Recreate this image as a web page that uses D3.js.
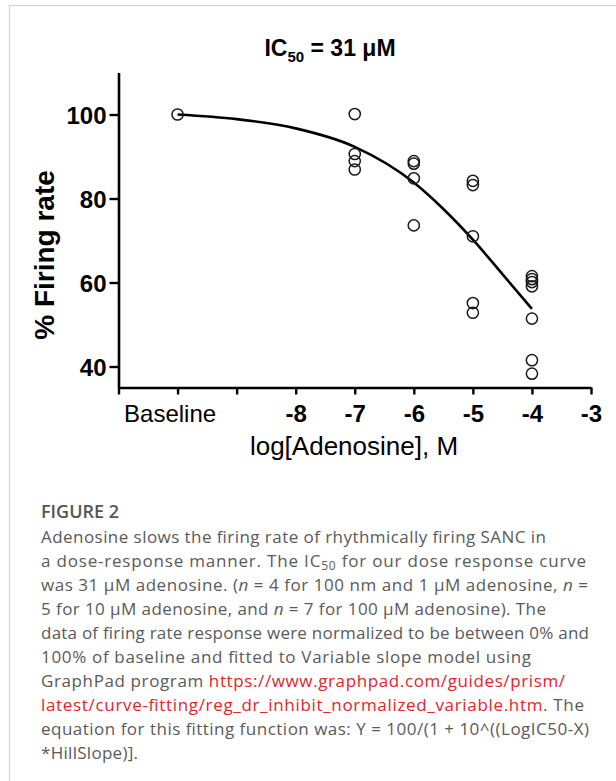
<!DOCTYPE html>
<html>
<head>
<meta charset="utf-8">
<script src="https://cdn.jsdelivr.net/npm/d3@7"></script>
<style>
  html, body { margin: 0; padding: 0; background: #fff; }
  svg { display: block; }
</style>
</head>
<body>
<script>
// Dose groups (log molar); -10 stands in for the baseline condition
const doseLevels = [-10, -7, -6, -5, -4];
const responses = [
  [100],
  [100.1, 90.6, 88.9, 86.9],
  [88.9, 88.3, 84.8, 73.6],
  [84.2, 83.2, 71.0, 55.1, 52.8],
  [61.5, 60.8, 60.1, 59.1, 51.4, 41.5, 38.3]
];

// Fitted dose-response curve (variable slope)
const fitLogDose = [-10, -9, -8, -7, -6, -5.5, -5, -4.5, -4];
const fitResponse = [100, 98.9, 96.7, 92.3, 83.8, 77.5, 70.2, 62.0, 53.7];

// Axes
const xDomain = [-11, -3];
const xTickValues = [-11, -10, -9, -8, -7, -6, -5, -4, -3];
const xTickLabels = {"-10": "Baseline", "-8": "-8", "-7": "-7", "-6": "-6", "-5": "-5", "-4": "-4", "-3": "-3"};
const yDomain = [35, 110];
const yTickValues = [40, 60, 80, 100];

// Caption
const captionHead = "FIGURE 2";

const W = 616, H = 781;
const svg = d3.select("body").append("svg").attr("width", W).attr("height", H);
svg.append("rect").attr("width", W).attr("height", H).attr("fill", "#fff");

// Page frame
svg.append("path")
  .attr("d", "M9.5,781 L9.5,5.5 L616,5.5")
  .attr("fill", "none").attr("stroke", "#d4d4d4").attr("stroke-width", 1.2);

const x = d3.scaleLinear().domain(xDomain).range([118.5, 591]);
const y = d3.scaleLinear().domain(yDomain).range([387.5, 72.5]);

const chartFont = "'Liberation Sans', Arial, sans-serif";

// Y axis
const yAxis = svg.append("g")
  .attr("transform", `translate(${x(xDomain[0])},0)`)
  .call(d3.axisLeft(y).tickValues(yTickValues).tickSize(9).tickSizeOuter(0).tickPadding(3));
yAxis.select(".domain").attr("stroke", "#000").attr("stroke-width", 2.6);
yAxis.selectAll(".tick line").attr("stroke", "#000").attr("stroke-width", 2.4);
yAxis.selectAll(".tick text")
  .attr("font-family", chartFont).attr("font-weight", "bold")
  .attr("font-size", 24).attr("fill", "#000").attr("dy", "0.36em");

// X axis
const xAxis = svg.append("g")
  .attr("transform", `translate(0,${y(yDomain[0])})`)
  .call(d3.axisBottom(x).tickValues(xTickValues).tickSize(7).tickSizeOuter(0).tickPadding(10)
    .tickFormat(d => xTickLabels[String(d)] || ""));
xAxis.select(".domain").attr("stroke", "#000").attr("stroke-width", 2.6);
xAxis.selectAll(".tick line").attr("stroke", "#000").attr("stroke-width", 2.4);
xAxis.selectAll(".tick text")
  .attr("font-family", chartFont)
  .attr("font-weight", d => d === -10 ? "normal" : "bold")
  .attr("font-size", 24).attr("fill", "#000")
  .attr("dx", d => d === -10 ? -8 : 0);

// Fitted curve
const fitPoints = fitLogDose.map((d, i) => [d, fitResponse[i]]);
svg.append("path")
  .datum(fitPoints)
  .attr("fill", "none").attr("stroke", "#000").attr("stroke-width", 2.6)
  .attr("d", d3.line().x(d => x(d[0])).y(d => y(d[1])).curve(d3.curveMonotoneX));

// Individual responses
const points = doseLevels.flatMap((dose, i) => responses[i].map(v => ({dose, v})));
svg.append("g").selectAll("circle")
  .data(points).join("circle")
  .attr("cx", d => x(d.dose)).attr("cy", d => y(d.v)).attr("r", 5.6)
  .attr("fill", "none").attr("stroke", "#1a1a1a").attr("stroke-width", 1.5);

// Title
const title = svg.append("text")
  .attr("x", 330).attr("y", 56).attr("text-anchor", "middle")
  .attr("font-family", chartFont).attr("font-weight", "bold").attr("font-size", 23).attr("fill", "#000");
title.append("tspan").text("IC");
title.append("tspan").attr("font-size", 15).attr("dy", 6).text("50");
title.append("tspan").attr("dy", -6).text(" = 31 μM");

// Axis titles
svg.append("text")
  .attr("transform", "translate(54,255) rotate(-90)")
  .attr("text-anchor", "middle")
  .attr("font-family", chartFont).attr("font-weight", "bold").attr("font-size", 28).attr("fill", "#000")
  .text("% Firing rate");

svg.append("text")
  .attr("x", 354).attr("y", 455).attr("text-anchor", "middle")
  .attr("font-family", chartFont).attr("font-size", 26).attr("fill", "#000")
  .text("log[Adenosine], M");

// Caption
const capFont = "'Open Sans', 'Noto Sans', sans-serif";
const capColor = "#5a5a5a";
const linkColor = "#e0262b";
svg.append("text")
  .attr("x", 41).attr("y", 518)
  .attr("font-family", capFont).attr("font-weight", 600).attr("font-size", 18).attr("fill", "#555")
  .text(captionHead);

// each line: array of [text, style] runs, plus right edge
const captionLines = [
  {end: 546, runs: [["Adenosine slows the firing rate of rhythmically firing SANC in"]]},
  {end: 586, runs: [["a dose-response manner. The IC"], ["50", "sub"], [" for our dose response curve"]]},
  {end: 588, runs: [["was 31 μM adenosine. ("], ["n", "it"], [" = 4 for 100 nm and 1 μM adenosine, "], ["n", "it"], [" ="]]},
  {end: 546, runs: [["5 for 10 μM adenosine, and "], ["n", "it"], [" = 7 for 100 μM adenosine). The"]]},
  {end: 589, runs: [["data of firing rate response were normalized to be between 0% and"]]},
  {end: 531, runs: [["100% of baseline and fitted to Variable slope model using"]]},
  {end: 565, runs: [["GraphPad program "], ["https://www.graphpad.com/guides/prism/", "link"]]},
  {end: 584, runs: [["latest/curve-fitting/reg_dr_inhibit_normalized_variable.htm", "link"], [". The"]]},
  {end: 589, runs: [["equation for this fitting function was: Y = 100/(1 + 10^((LogIC50-X)"]]},
  {end: 138, runs: [["*HillSlope)]."]]}
];

captionLines.forEach((line, i) => {
  const t = svg.append("text")
    .attr("x", 41).attr("y", 543 + i * 24)
    .attr("font-family", capFont).attr("font-size", 17).attr("fill", capColor)
    .attr("textLength", line.end - 41).attr("lengthAdjust", "spacing");
  line.runs.forEach(([s, style]) => {
    const ts = t.append("tspan").text(s);
    if (style === "it") ts.attr("font-style", "italic");
    if (style === "link") ts.attr("fill", linkColor);
    if (style === "sub") ts.attr("font-size", 12).attr("dy", 3);
  });
  // restore baseline after a subscript run
  t.selectAll("tspan").each(function(_, j) {
    if (j > 0 && line.runs[j - 1][1] === "sub") d3.select(this).attr("dy", -3);
  });
});
</script>
</body>
</html>
